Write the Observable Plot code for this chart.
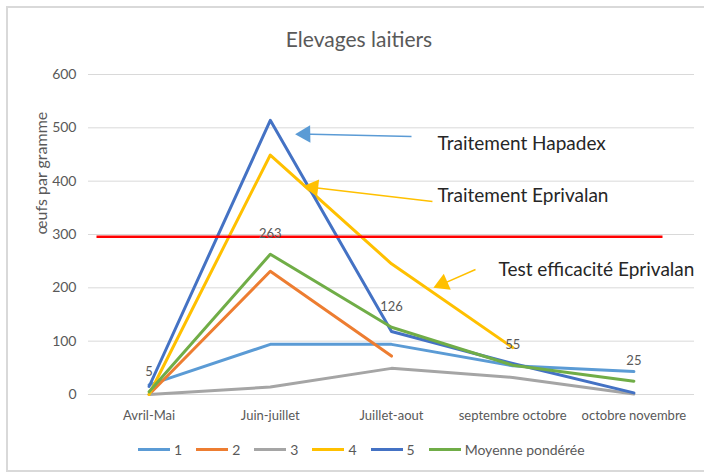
<!DOCTYPE html>
<html>
<head>
<meta charset="utf-8">
<script src="https://cdn.jsdelivr.net/npm/d3@7"></script>
<script src="https://cdn.jsdelivr.net/npm/@observablehq/plot@0.6"></script>
<style>
  html, body { margin: 0; padding: 0; background: #fff; }
  #wrap { position: relative; width: 704px; height: 474px; overflow: hidden; font-family: Lato, "Open Sans", sans-serif; }
  #card { position: absolute; left: 6px; top: 6px; width: 720px; height: 466px; border: 2px solid #d9d9d9; box-sizing: border-box; }
  #title { position: absolute; left: 0; width: 718px; top: 26px; text-align: center; font-size: 21px; color: #595959; }
  #chart { position: absolute; left: 0; top: 0; }
  #legend { position: absolute; left: 138px; top: 441px; display: flex; gap: 14px; font-size: 14px; color: #595959; align-items: center; }
  .item { display: flex; align-items: center; gap: 4px; }
  .sw { width: 32px; height: 3px; }
</style>
</head>
<body>
<div id="wrap">
  <div id="card"></div>
  <div id="chart"></div>
  <div id="title">Elevages laitiers</div>
  <div id="legend"></div>
</div>
<script>
// ---- data ----
const categories = ["Avril-Mai", "Juin-juillet", "Juillet-aout", "septembre octobre", "octobre novembre"];
const seriesNames = ["1", "2", "3", "4", "5", "Moyenne pondérée"];
const seriesColors = ["#5B9BD5", "#ED7D31", "#A5A5A5", "#FFC000", "#4472C4", "#70AD47"];
const s1 = [18, 94, 94, 54, 43];
const s2 = [0, 231, 72, null, null];
const s3 = [0, 14, 49, 32, 1];
const s4 = [0, 449, 245, 88, null];
const s5 = [15, 514, 118, 58, 3];
const moyenne = [5, 263, 126, 55, 25];
const yTicks = [0, 100, 200, 300, 400, 500, 600];
const yLabel = "œufs par gramme";
const thresholdLine = [{x: -0.434, y: 296}, {x: 4.236, y: 296}];
// annotations in data units (x = category index, y = value)
const annotTexts = [
  {text: "Traitement Hapadex", x: 2.38, y: 469.7},
  {text: "Traitement Eprivalan", x: 2.38, y: 373.1},
  {text: "Test efficacité Eprivalan", x: 2.883, y: 234.4}
];
const arrows = [
  {color: "#5B9BD5", x1: 2.165, y1: 483.8, x2: 1.25, y2: 488.6, hx: 1.288, hy: 488.4, rot: -91},
  {color: "#FFC000", x1: 2.338, y1: 361.9, x2: 1.30, y2: 389.5, hx: 1.353, hy: 388.1, rot: -83.3},
  {color: "#FFC000", x1: 2.693, y1: 234.4, x2: 2.40, y2: 205, hx: 2.422, hy: 207.6, rot: -113.5}
];

const allSeries = [s1, s2, s3, s4, s5, moyenne];
const rows = allSeries.map(vals => vals.map((v, i) => ({i, v})).filter(d => d.v != null));

const marks = [
  Plot.ruleY(yTicks, {stroke: "#d9d9d9", strokeWidth: 1}),
  Plot.axisY(yTicks, {tickSize: 0, tickPadding: 12, fontSize: 14, fill: "#595959", label: null}),
  Plot.axisX([0, 1, 2, 3, 4], {tickFormat: i => categories[i], tickSize: 0, tickPadding: 16, fontSize: 13, fill: "#595959", label: null})
];
rows.forEach((r, k) => {
  marks.push(Plot.line(r, {x: "i", y: "v", stroke: seriesColors[k], strokeWidth: 3}));
});
marks.push(
  Plot.line(thresholdLine, {x: "x", y: "y", stroke: "#FF0000", strokeWidth: 2.5, strokeLinecap: "butt"}),
  Plot.text(rows[5], {x: "i", y: "v", text: d => String(d.v), dy: -20, fill: "#595959", fontSize: 13}),
  Plot.link(arrows, {x1: "x1", y1: "y1", x2: "x2", y2: "y2", stroke: d => d.color, strokeWidth: 1.5}),
  Plot.dot(arrows, {x: "hx", y: "hy", symbol: "triangle", r: 6.5, fill: d => d.color, stroke: "none", rotate: "rot"}),
  Plot.text(annotTexts, {x: "x", y: "y", text: "text", textAnchor: "start", fill: "#262626", fontSize: 19}),
  Plot.text([yLabel], {frameAnchor: "left", text: d => d, rotate: -90, dx: -47, fill: "#595959", fontSize: 16})
);

const chart = Plot.plot({
  width: 704,
  height: 474,
  marginLeft: 88,
  marginRight: 10,
  marginTop: 74,
  marginBottom: 80,
  style: {fontFamily: "Lato, 'Open Sans', sans-serif", fontSize: "13px", color: "#595959", background: "transparent"},
  x: {domain: [-0.5, 4.5], label: null},
  y: {domain: [0, 600], label: null},
  color: {type: "identity"},
  marks
});
document.getElementById("chart").appendChild(chart);

const legend = document.getElementById("legend");
seriesNames.forEach((n, k) => {
  const it = document.createElement("div");
  it.className = "item";
  const sw = document.createElement("div");
  sw.className = "sw";
  sw.style.background = seriesColors[k];
  const t = document.createElement("span");
  t.textContent = n;
  it.appendChild(sw); it.appendChild(t);
  legend.appendChild(it);
});
</script>
</body>
</html>
